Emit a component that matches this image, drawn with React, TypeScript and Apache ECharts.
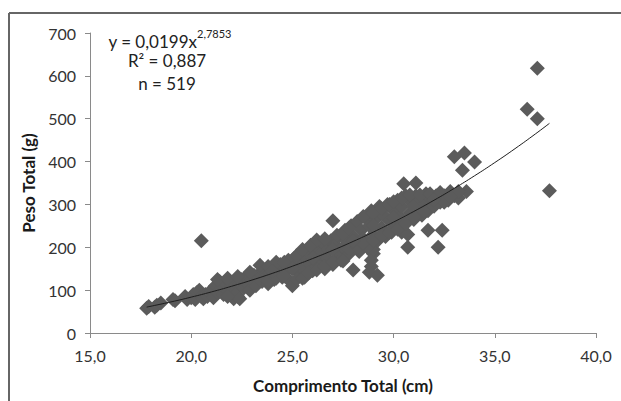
import React, { useEffect, useRef } from "react";
import * as echarts from "echarts";

// Comprimento Total (cm), Peso Total (g)
const points: [number, number][] = [
  [17.8, 58], [17.9, 62], [18.2, 60], [18.3, 65], [18.5, 70], [19.1, 78], [19.2, 75],
  [19.7, 85], [19.8, 78], [20.0, 82], [20.1, 90], [20.2, 78], [20.3, 95], [20.4, 100],
  [20.5, 85], [20.6, 80], [20.7, 90], [20.5, 215],
  [20.8, 85], [20.9, 95], [21.0, 100], [21.1, 82], [21.2, 110], [21.3, 95], [21.4, 120],
  [21.5, 105], [21.6, 90], [21.7, 115], [21.8, 100], [21.9, 120], [22.0, 110], [22.1, 95],
  [22.1, 80], [22.3, 85], [22.2, 90], [22.4, 80],
  [22.4, 115], [22.5, 125], [22.6, 105], [22.7, 130], [22.8, 115], [22.9, 100], [23.0, 125],
  [23.1, 135], [23.2, 110], [23.3, 130], [23.4, 140], [23.5, 120], [23.6, 145], [23.7, 130],
  [23.8, 115], [23.9, 140], [24.0, 135], [24.1, 125],
  [24.2, 150], [24.3, 140], [24.4, 160], [24.5, 130], [24.6, 155], [24.7, 145], [24.8, 170],
  [24.9, 120], [25.0, 160], [25.0, 110], [25.1, 175], [25.2, 145], [25.3, 165], [25.4, 185],
  [25.5, 150], [25.6, 130], [25.7, 175], [25.8, 190], [25.9, 160],
  [26.0, 145], [26.1, 180], [26.2, 200], [26.3, 165], [26.4, 185], [26.5, 210], [26.6, 150],
  [26.7, 175], [26.8, 195], [26.9, 215], [27.0, 262], [27.0, 160], [27.1, 205], [27.2, 185],
  [27.3, 225], [27.4, 170], [27.5, 200], [27.6, 240], [27.7, 215], [27.8, 185], [27.9, 250],
  [28.0, 147], [28.0, 225], [28.1, 205], [28.2, 260], [28.3, 190], [28.4, 240], [28.5, 220],
  [28.9, 155], [28.9, 170], [29.0, 185], [29.0, 195], [28.8, 142], [29.2, 135],
  [28.6, 270], [28.7, 200], [28.8, 250], [28.9, 285], [29.0, 230], [29.1, 265], [29.2, 215],
  [29.3, 295], [29.4, 245], [29.5, 275], [29.6, 225], [29.7, 300], [29.8, 260], [29.9, 235],
  [30.0, 285],
  [30.1, 250], [30.2, 310], [30.3, 270], [30.4, 295], [30.4, 235], [30.5, 348], [30.6, 320],
  [30.7, 200], [30.7, 230], [30.8, 280], [30.9, 305], [31.0, 265], [31.1, 350], [31.1, 320],
  [31.2, 290], [31.3, 310], [31.4, 275],
  [31.5, 300], [31.6, 325], [31.7, 240], [31.7, 285], [31.8, 315], [32.0, 300], [32.1, 320],
  [32.2, 200], [32.3, 305], [32.4, 240], [32.5, 320], [32.7, 310], [32.8, 330], [33.0, 320],
  [33.0, 411], [33.2, 315], [33.4, 380], [33.5, 420], [33.6, 330], [34.0, 399],
  [36.6, 522], [37.1, 618], [37.1, 500], [37.7, 332],
  // upper edge of the cloud
  [21.3, 125], [21.8, 128], [22.3, 132], [22.9, 142],
  [23.4, 158], [23.8, 155], [24.2, 165], [24.6, 165], [25.2, 180], [25.5, 195], [25.9, 205],
  [26.2, 217], [26.6, 220], [27.2, 228], [27.5, 232], [27.8, 245], [28.5, 272], [29.0, 280],
  [29.4, 290], [29.8, 300], [30.0, 306], [30.4, 315], [30.8, 322], [31.3, 322], [31.8, 325],
  [32.3, 328], [32.8, 325], [33.2, 330],
  // lower edge of the cloud
  [21.8, 85],
  [23.8, 122], [24.2, 128], [24.6, 133], [25.2, 125], [25.5, 128], [25.8, 140], [26.2, 147],
  [26.6, 155], [27.0, 165], [27.5, 168], [27.8, 195], [28.2, 200], [28.5, 210], [29.0, 215],
  [29.4, 228], [29.8, 235], [30.2, 242], [30.6, 255], [31.0, 270], [31.5, 285], [32.0, 296],
  [32.5, 305], [32.8, 318],
  // middle of the cloud
  [24.0, 145], [25.0, 150], [26.0, 175], [27.0, 195], [28.0, 215], [29.0, 250], [30.0, 270],
  [31.0, 295], [32.0, 310],
];

// Power trend line printed on the chart: y = 0,0199 x^2,7853
const trendA = 0.0199;
const trendB = 2.7853;
const trendX = [17.8, 19, 20, 21, 22, 23, 24, 25, 26, 27, 28, 29, 30, 31, 32, 33, 34, 35, 36, 37, 37.7];

const xTicks = [15, 20, 25, 30, 35, 40];
const yTicks = [0, 100, 200, 300, 400, 500, 600, 700];

const FONT = "Lato, 'Open Sans', sans-serif";

export default function App() {
  const ref = useRef<HTMLDivElement>(null);
  useEffect(() => {
    if (!ref.current) return;
    const chart = echarts.init(ref.current, undefined, { renderer: "svg" });
    const trend = trendX.map((x) => [x, trendA * Math.pow(x, trendB)]);
    chart.setOption({
      animation: false,
      backgroundColor: "#ffffff",
      grid: { left: 90, right: 25, top: 33, bottom: 68, containLabel: false },
      xAxis: {
        type: "value",
        min: xTicks[0],
        max: xTicks[xTicks.length - 1],
        interval: 5,
        name: "Comprimento Total (cm)",
        nameLocation: "middle",
        nameGap: 44,
        nameTextStyle: { fontFamily: FONT, fontSize: 17, fontWeight: "bold", color: "#1a1a1a" },
        axisLine: { show: true, lineStyle: { color: "#8a8a8a", width: 1 } },
        axisTick: { show: true, inside: false, length: 5, lineStyle: { color: "#8a8a8a" } },
        axisLabel: {
          fontFamily: FONT,
          fontSize: 16,
          color: "#333",
          margin: 14,
          formatter: (v: number) => v.toFixed(1).replace(".", ","),
        },
        splitLine: { show: false },
      },
      yAxis: {
        type: "value",
        min: yTicks[0],
        max: yTicks[yTicks.length - 1],
        interval: 100,
        name: "Peso Total (g)",
        nameLocation: "middle",
        nameRotate: 90,
        nameGap: 48,
        nameTextStyle: { fontFamily: FONT, fontSize: 17, fontWeight: "bold", color: "#1a1a1a" },
        axisLine: { show: true, lineStyle: { color: "#8a8a8a", width: 1 } },
        axisTick: { show: true, inside: false, length: 5, lineStyle: { color: "#8a8a8a" } },
        axisLabel: { fontFamily: FONT, fontSize: 16, color: "#333", margin: 14 },
        splitLine: { show: false },
      },
      series: [
        {
          type: "scatter",
          data: points,
          symbol: "diamond",
          symbolSize: 15,
          itemStyle: { color: "#5b5b5b", opacity: 1 },
          z: 2,
        },
        {
          type: "line",
          data: trend,
          smooth: true,
          showSymbol: false,
          symbol: "none",
          lineStyle: { color: "#1e1e1e", width: 1 },
          z: 3,
        },
      ],
      graphic: [
        { type: "line", shape: { x1: 9, y1: 13, x2: 621, y2: 13 }, style: { stroke: "#666", lineWidth: 2 } },
        { type: "line", shape: { x1: 9, y1: 13, x2: 9, y2: 401 }, style: { stroke: "#666", lineWidth: 2 } },
        {
          type: "text",
          x: 197,
          y: 41,
          style: { text: "y = 0,0199x", fontFamily: FONT, fontSize: 17, fill: "#222", align: "right", verticalAlign: "middle" },
        },
        {
          type: "text",
          x: 197,
          y: 33,
          style: { text: "2,7853", fontFamily: FONT, fontSize: 11, fill: "#222", align: "left", verticalAlign: "middle" },
        },
        {
          type: "text",
          x: 167,
          y: 60,
          style: { text: "R² = 0,887", fontFamily: FONT, fontSize: 17, fill: "#222", align: "center", verticalAlign: "middle" },
        },
        {
          type: "text",
          x: 167,
          y: 83,
          style: { text: "n = 519", fontFamily: FONT, fontSize: 17, fill: "#222", align: "center", verticalAlign: "middle" },
        },
      ],
    });
    return () => chart.dispose();
  }, []);
  return <div ref={ref} style={{ position: "fixed", left: 0, top: 0, width: 621, height: 401 }} />;
}
